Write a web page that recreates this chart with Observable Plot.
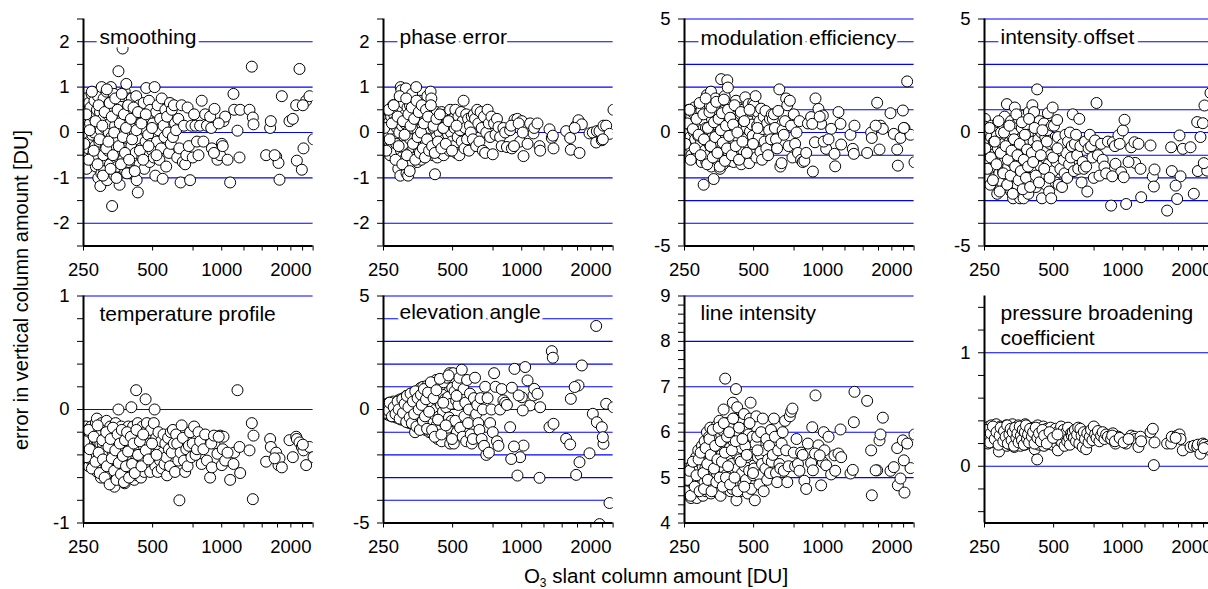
<!DOCTYPE html>
<html><head><meta charset="utf-8">
<script src="https://cdn.jsdelivr.net/npm/d3@7"></script>
<script src="https://cdn.jsdelivr.net/npm/@observablehq/plot@0.6"></script>
<style>
html,body{margin:0;padding:0;background:#fff;overflow:hidden;}
#chart{position:relative;width:1208px;height:589px;overflow:hidden;font-family:"Liberation Sans",Arial,sans-serif;color:#000;}
#chart svg{position:absolute;max-width:none;}
.ytitle{position:absolute;left:21px;top:290px;transform:translate(-50%,-50%) rotate(-90deg);white-space:nowrap;font-size:20px;line-height:1;}
.xtitle{position:absolute;left:656px;top:566px;transform:translateX(-50%);white-space:nowrap;font-size:20.5px;line-height:1;}
.xtitle sub{font-size:12px;vertical-align:-4px;line-height:0;}
</style></head>
<body>
<div id="chart">
  <div class="ytitle">error in vertical column amount [DU]</div>
  <div class="xtitle">O<sub>3</sub> slant column amount [DU]</div>
</div>
<script>
// O3 slant column amount [DU] (shared by all panels)
const slantColumn = [
 251,253,254,256,258,259,261,262,264,265,267,268,270,271,273,275,276,278,279,281,283,284,286,287,289,290,292,293,295,296,297,298,299,300,301,
 303,305,306,308,310,311,313,315,317,318,320,322,324,326,327,329,331,333,335,337,339,341,343,345,347,349,351,353,355,357,359,361,363,365,368,370,372,374,376,378,380,382,384,386,388,390,392,394,396,398,
 401,404,406,409,411,414,416,419,421,424,426,429,431,434,437,439,442,445,448,451,454,457,460,463,466,469,472,475,478,482,485,488,492,495,498,
 502,506,510,514,518,522,526,530,535,539,544,548,553,558,563,568,573,578,584,589,595,600,
 606,613,619,626,633,640,647,654,662,669,677,685,693,701,710,719,728,738,748,758,769,780,792,805,818,832,847,862,
 890,906,930,958,984,1001,1018,1035,1088,1125,1133,1171,1195,1203,1321,1352,1366,1375,1561,1625,1636,1726,1767,1785,1827,1973,2040,2110,2124,2181,2233,2270,2332,2411,2510,
 900,925,970,1010,1060,1700,2255,
 252,257,263,266,272,277,282,288,291,294,302,304,309,314,316,321,325,328,332,336,340,344,348,352,356,360,364,367,371,375,379,383,387,391,395,402,407,413,418,425,432,440,447,455,467,480,497,520
];

const smoothing = [
 0.6,0.3,-0.1,0.75,-0.8,0.45,0.1,-0.35,0.65,-0.2,0.2,0.55,-0.6,0.85,-0.05,0.35,-0.45,0.0,0.7,-0.3,-0.75,0.15,0.5,-0.55,0.8,-1.0,0.25,-0.2,0.45,-1.18,0.05,0.6,-0.9,1.0,-0.65,
 0.3,-0.5,0.75,-0.85,0.1,0.55,-0.25,0.9,-1.05,0.4,-0.4,0.0,0.65,-0.7,0.2,1.0,-0.1,-1.62,0.5,-0.3,0.85,-0.95,0.15,-0.55,0.7,0.35,-0.75,-0.15,1.35,0.05,-1.15,0.6,0.25,-0.45,0.8,1.85,-0.6,0.45,-0.2,0.9,-0.85,0.1,1.07,-0.35,0.55,0.3,-0.65,0.0,0.75,-0.9,
 0.4,-0.3,0.75,-0.6,0.15,-0.9,0.55,0.0,-0.45,0.8,-1.05,0.3,-1.32,-0.15,0.6,-0.7,0.2,-0.35,0.45,-0.55,0.1,0.65,-0.8,0.25,-0.2,0.98,-0.5,0.35,-0.05,0.7,-0.65,0.5,-0.25,0.15,-0.4,
 0.2,-0.55,1.0,-0.95,0.45,-0.2,0.6,0.05,-0.6,0.3,-0.35,0.75,-1.02,0.15,-0.1,0.5,-0.75,0.35,0.0,-0.45,0.65,-0.25,
 0.5,-0.1,0.6,0.2,0.05,-0.55,0.3,-0.35,-1.1,0.6,-0.65,0.15,-0.7,-0.5,0.55,-0.3,-1.05,0.15,-0.55,0.4,0.15,-0.2,-0.5,0.15,0.7,-0.2,0.4,0.15,
 0.35,-0.35,0.52,-0.6,-0.5,-0.25,0.25,0.35,-1.1,0.85,0.5,0.04,-0.55,0.5,0.5,1.45,0.33,0.18,-0.5,0.1,0.25,-0.53,-0.67,-1.04,0.8,0.25,0.3,0.6,-0.62,1.4,-0.82,-0.35,0.7,0.8,-0.15,
 0.1,-0.45,0.2,-0.3,-0.6,-0.5,0.6,
 -0.25,0.4,-0.6,0.05,0.9,-0.4,0.25,-0.7,0.6,-0.15,0.15,-0.95,0.45,-0.35,0.95,-0.2,0.65,-0.8,0.35,-0.5,0.0,0.75,-1.0,0.5,-0.3,0.2,-0.7,0.85,-0.1,0.4,-0.45,0.1,-0.9,0.6,-0.6,0.3,-0.15,0.55,-0.85,0.05,0.45,-0.4,0.2,-0.6,0.4,-0.3,0.1,-0.5
];

const phaseError = [
 0.25,-0.1,0.0,0.3,-0.2,0.1,-0.35,0.2,-0.05,0.45,-0.5,0.15,0.35,-0.3,0.05,0.6,-0.15,0.4,-0.45,0.25,0.55,-0.25,0.1,-0.6,0.45,-0.8,0.3,0.0,0.7,-0.95,1.0,-0.4,0.93,-0.55,0.15,
 0.5,-0.3,0.65,-0.6,0.2,0.4,0.97,-0.9,0.0,0.55,-0.95,0.3,-0.45,0.6,-0.15,0.45,-0.7,0.85,0.1,-0.35,0.5,-0.55,0.25,-0.2,1.0,0.65,-0.65,0.05,0.4,-0.4,0.7,-0.1,0.3,-0.6,0.55,0.15,-0.3,0.45,-0.5,0.2,0.6,-0.2,0.35,-0.45,0.8,0.0,-0.35,0.5,0.1,-0.25,
 0.9,0.75,-0.3,0.4,-0.5,0.1,-0.2,-0.92,0.35,-0.1,0.45,-0.55,0.15,-0.35,0.3,0.0,-0.45,0.2,0.45,-0.25,0.1,-0.5,0.35,-0.15,0.05,0.4,-0.35,0.25,-0.05,0.2,-0.4,0.5,0.0,-0.2,0.3,
 0.3,-0.3,0.1,0.5,-0.45,0.2,-0.1,0.35,-0.5,0.05,0.45,-0.2,0.25,0.7,-0.35,0.1,0.4,-0.15,0.3,-0.4,0.15,0.0,
 0.35,-0.15,0.4,0.3,-0.3,0.5,0.2,-0.2,0.45,0.1,-0.4,0.35,-0.45,0.0,0.5,0.2,-0.1,0.35,-0.48,0.2,-0.05,0.3,0.12,-0.1,-0.3,0.1,0.0,-0.32,
 0.05,-0.35,0.28,0.3,-0.2,0.25,-0.52,0.08,0.2,-0.02,0.1,0.2,-0.3,-0.4,0.07,-0.12,-0.07,-0.35,0.03,-0.12,-0.38,0.15,0.27,-0.45,0.18,-0.02,0.0,-0.22,0.03,0.03,-0.17,0.15,0.15,-0.03,0.5,
 0.15,-0.3,0.2,0.0,-0.25,0.1,-0.15,
 0.1,-0.4,0.5,-0.15,0.2,0.6,-0.6,0.35,-0.3,0.8,-0.7,0.25,-0.05,0.75,-0.5,0.4,-0.85,0.15,0.55,-0.25,0.3,-0.6,0.7,-0.1,0.45,-0.45,0.0,0.6,-0.35,0.2,-0.55,0.5,-0.15,0.35,-0.4,0.6,-0.3,0.15,-0.45,0.3,-0.2,0.4,-0.35,0.1,-0.25,0.25,-0.4,0.15
];

const modulationEfficiency = [
 0.7,-0.9,0.3,0.85,-0.4,0.1,1.0,-0.6,0.45,-0.2,0.65,-1.0,0.2,0.9,-0.5,0.0,1.1,-0.3,0.5,-0.8,0.35,-1.1,0.8,-0.15,0.6,-0.7,1.2,0.05,-0.45,0.95,-1.3,0.4,-0.25,0.75,0.15,
 -2.3,0.5,-0.8,1.4,0.2,-1.3,1.65,-0.4,0.9,-1.0,0.1,1.2,-0.6,1.8,-1.5,0.6,-0.2,1.0,-2.05,0.35,-0.9,1.5,-0.1,0.75,-1.2,0.3,1.3,-0.5,0.0,-1.6,1.1,2.35,-0.75,0.55,-1.4,0.95,-0.3,1.6,-1.1,0.15,0.8,-0.55,2.3,1.98,-0.85,0.45,-1.25,1.2,-0.05,0.65,
 1.2,-0.7,0.4,-1.3,0.9,0.0,-0.4,1.4,-1.0,0.6,-0.2,1.1,-1.2,0.3,-0.6,0.8,-1.4,0.15,1.0,-0.8,0.5,-0.3,1.55,-1.1,0.2,0.7,-0.5,1.25,-1.35,0.05,0.95,-0.9,0.35,-0.15,1.3,
 1.2,-0.5,1.6,-1.1,0.3,0.9,-0.2,0.5,-0.85,1.05,-1.2,0.15,0.7,-0.4,0.95,-0.7,0.4,-1.0,0.1,0.6,-0.3,0.8,
 0.6,0.8,0.2,-0.3,-0.7,0.95,1.9,-1.5,-1.35,0.1,-0.1,0.5,1.5,1.2,-0.6,1.4,0.3,-1.1,0.8,-0.5,0.0,-0.9,0.5,-1.2,-1.3,-1.25,-0.9,0.4,
 0.68,-1.72,1.5,1.04,0.38,0.75,-0.4,-0.72,0.16,-0.94,-1.49,0.9,0.38,-0.53,-0.1,-0.72,-0.94,0.3,-0.9,0.0,-0.24,1.31,-0.75,0.3,0.16,0.85,-0.06,-0.75,-1.46,-0.24,0.97,0.19,2.25,-0.1,-1.31,
 0.38,-0.43,0.7,-0.4,-0.3,0.3,0.2,
 -0.5,0.4,1.0,-1.2,0.15,-0.7,0.6,-0.1,1.3,-1.0,0.8,-0.3,1.5,-1.4,0.2,0.9,-0.6,1.1,-1.1,0.45,-0.2,1.35,-0.9,0.6,-1.5,0.1,0.85,-0.45,1.45,-1.25,0.3,-0.7,1.0,-0.15,0.65,-1.0,0.35,1.2,-0.6,0.0,-1.2,0.9,-0.4,0.5,-0.9,1.0,-0.5,0.2
];

const intensityOffset = [
 0.6,0.25,-0.3,-1.0,-0.5,0.05,-2.0,-0.8,-1.3,-2.3,-0.2,0.3,-1.6,-0.6,-1.1,-0.4,-2.0,0.1,-0.9,-1.5,-0.15,-2.7,-0.7,0.45,-1.2,-1.8,-0.3,-2.5,0.0,-1.0,-1.4,0.4,-2.2,-0.55,-1.75,
 -0.5,-1.8,0.7,-1.2,-0.1,-2.4,1.25,-0.8,-1.5,0.3,-2.0,-0.4,-1.0,0.5,-2.6,-1.3,-0.2,-2.9,0.1,-0.7,1.1,-1.7,-1.1,0.4,-2.3,-0.5,-1.4,0.6,-0.9,-2.9,-0.3,-1.9,0.2,-1.2,-0.6,-2.9,0.75,-1.6,-1.0,-2.2,0.35,-0.8,-1.3,-0.1,-2.7,0.9,-1.5,-0.4,-2.0,-0.95,
 -1.0,1.2,-2.1,-0.4,0.9,-1.6,-0.7,-2.4,0.2,1.9,-1.2,-0.3,-2.0,0.5,-0.9,-1.5,0.0,-2.9,-0.6,-1.8,0.4,-1.1,-0.2,-2.3,-0.8,0.1,0.85,-1.4,-2.6,-0.5,-1.0,-2.9,0.3,1.1,-1.7,
 0.3,-0.5,-2.2,-1.3,0.55,-0.2,-2.3,-1.0,-1.6,-0.8,-2.4,-0.5,-1.2,-1.8,-0.1,-0.9,-2.0,-0.4,-1.4,0.0,-1.1,-0.6,
 0.8,-1.7,-0.5,-0.1,-1.0,-1.6,0.6,-0.6,-2.2,-1.3,-1.6,-0.4,-1.5,-2.6,-0.7,-0.1,-0.6,-1.1,-2.0,-0.35,1.3,-1.0,-1.9,-0.5,-1.2,-1.5,-1.8,-0.4,
 -3.22,-0.43,-1.38,-0.13,-1.75,0.09,0.56,-3.15,-0.65,-0.43,-1.34,-0.5,-1.6,-2.85,-0.57,-1.94,-2.38,-1.63,-3.44,-0.65,-1.7,-2.93,-0.13,-1.93,-0.72,-0.65,-2.7,0.46,-1.7,-0.2,0.41,1.19,-1.68,1.74,-1.35,
 -1.93,-0.6,-0.5,-1.97,-1.3,-2.34,-1.35,
 -0.7,-1.6,0.2,-1.1,-2.1,-0.4,-1.4,0.5,-2.6,-0.9,-1.8,0.0,-0.6,-2.3,-1.2,0.3,-1.9,-0.8,-2.7,-0.3,-1.5,0.8,-1.0,-2.1,-0.5,-1.7,0.45,-2.5,-1.2,-0.1,-2.0,-0.75,-1.5,0.6,-2.4,-0.9,-1.3,0.2,-1.9,-0.6,-2.2,-1.0,0.1,-1.6,-0.4,-2.0,-1.1,-0.7
];

const temperatureProfile = [
 -0.35,-0.2,-0.45,-0.15,-0.3,-0.25,-0.4,-0.18,-0.5,-0.28,-0.22,-0.38,-0.15,-0.45,-0.3,-0.2,-0.35,-0.48,-0.25,-0.4,-0.12,-0.33,-0.08,-0.55,-0.28,-0.2,-0.42,-0.15,-0.5,-0.3,-0.22,-0.6,-0.36,-0.12,-0.45,
 -0.3,-0.55,-0.15,-0.45,-0.25,-0.6,-0.35,-0.1,-0.5,-0.4,-0.2,-0.62,-0.3,-0.45,-0.15,-0.55,-0.25,-0.65,-0.38,-0.2,-0.5,-0.68,-0.3,-0.12,-0.45,-0.58,-0.25,-0.4,0.0,-0.55,-0.2,-0.35,-0.62,-0.15,-0.48,-0.3,-0.58,-0.22,-0.42,-0.65,-0.18,-0.35,-0.52,-0.25,-0.4,-0.6,-0.15,-0.32,-0.5,-0.28,
 -0.4,0.02,-0.25,-0.55,-0.15,-0.35,-0.62,-0.2,-0.45,0.17,-0.3,-0.58,-0.12,-0.4,-0.5,-0.22,-0.35,-0.6,-0.28,-0.15,-0.45,-0.32,-0.55,-0.2,0.09,-0.38,-0.12,-0.5,-0.25,-0.42,-0.3,-0.55,-0.18,-0.35,-0.45,
 -0.3,-0.12,0.0,-0.5,-0.25,-0.4,-0.55,-0.2,-0.35,-0.45,-0.28,-0.52,-0.38,-0.22,-0.48,-0.3,-0.42,-0.58,-0.25,-0.35,-0.5,-0.2,
 -0.38,-0.18,-0.3,-0.55,-0.22,-0.3,-0.45,-0.8,-0.38,-0.14,-0.25,-0.45,-0.55,-0.35,-0.5,-0.32,-0.2,-0.42,-0.3,-0.15,-0.4,-0.35,-0.2,-0.28,-0.48,-0.35,-0.22,-0.45,
 -0.6,-0.51,-0.3,-0.39,-0.23,-0.49,-0.24,-0.45,-0.62,-0.48,-0.38,0.17,-0.33,-0.56,-0.36,-0.12,-0.79,-0.23,-0.46,-0.26,-0.33,-0.38,-0.49,-0.43,-0.51,-0.27,-0.42,-0.24,-0.26,-0.29,-0.33,-0.36,-0.49,-0.33,-0.42,
 -0.3,-0.23,-0.24,-0.35,-0.38,-0.43,-0.31,
 -0.28,-0.42,-0.18,-0.35,-0.52,-0.24,-0.46,-0.14,-0.38,-0.56,-0.27,-0.44,-0.6,-0.2,-0.5,-0.33,-0.66,-0.26,-0.43,-0.16,-0.54,-0.36,-0.62,-0.22,-0.47,-0.3,-0.57,-0.18,-0.41,-0.64,-0.27,-0.5,-0.2,-0.37,-0.6,-0.24,-0.48,-0.3,-0.56,-0.18,-0.4,-0.28,-0.5,-0.22,-0.36,-0.44,-0.3,-0.4
];

const elevationAngle = [
 0.05,-0.1,0.15,0.0,-0.2,0.25,-0.05,0.1,-0.25,0.3,-0.15,0.05,0.2,-0.3,0.1,-0.1,0.35,-0.2,0.0,0.25,-0.35,0.15,-0.05,0.3,-0.25,0.4,-0.4,0.1,-0.15,0.2,0.45,-0.3,0.05,-0.45,0.3,
 0.2,-0.3,0.5,-0.1,0.35,-0.5,0.0,0.6,-0.4,0.15,-0.2,0.55,-0.6,0.3,-0.05,0.7,-0.35,0.1,-0.65,0.45,-0.15,0.75,-1.0,0.25,-0.45,0.6,-0.7,0.05,0.85,-0.3,0.4,-0.8,0.95,-0.2,0.15,-0.55,1.0,-0.75,0.5,-0.1,0.8,-0.9,0.3,-0.4,1.05,-0.6,0.0,0.65,-1.0,0.45,
 0.9,-1.0,0.3,-0.5,1.1,-0.2,0.6,-1.1,0.0,1.3,-0.7,0.4,-1.3,0.8,-0.3,1.0,-0.9,0.2,-1.4,0.65,-0.1,1.2,-0.6,0.45,-1.05,0.1,1.4,-0.8,0.55,-0.35,1.6,-1.5,0.25,-0.5,0.95,
 1.6,-1.5,0.8,-0.5,0.4,-1.0,1.1,0.2,1.4,-0.8,0.6,1.75,-1.2,0.9,-0.3,0.3,-1.4,1.3,-0.6,0.0,0.7,-1.1,
 -1.5,-1.3,0.5,1.4,-0.2,0.2,-0.6,-0.9,0.5,-1.3,0.0,-1.6,1.0,-2.0,0.5,-1.9,-0.6,0.0,-1.0,1.6,1.0,-1.4,-1.6,0.0,0.9,0.4,0.3,0.2,
 -0.78,0.96,1.79,-2.91,-2.1,0.54,-1.59,1.87,0.18,0.62,0.91,0.69,-3.01,0.1,-0.78,2.57,2.28,-0.63,-1.29,-1.54,0.47,-2.88,1.06,-2.32,1.94,-1.93,-0.19,3.68,-0.56,-5.05,-0.78,-1.51,0.25,-4.12,0.1,
 -2.18,-1.63,0.62,-0.04,1.28,0.99,-1.22,
 -0.15,0.2,-0.05,0.3,-0.3,0.1,-0.2,0.35,0.0,-0.4,0.45,-0.15,0.25,-0.55,0.6,0.1,-0.35,0.7,-0.6,0.35,-0.2,0.8,-0.75,0.5,0.0,-0.9,0.65,0.2,-0.5,0.9,-0.3,0.45,-0.85,0.75,-0.1,1.2,-0.9,0.5,-1.2,0.85,-0.45,1.35,-1.1,0.3,-0.7,1.5,-1.3,0.6
];

const lineIntensity = [
 4.8,5.05,4.65,4.9,5.2,4.7,5.0,4.6,5.1,4.85,4.55,5.25,4.75,5.0,4.9,5.3,4.6,5.15,4.8,5.45,4.55,5.0,4.9,5.6,4.7,5.2,5.05,4.85,5.5,4.65,5.3,5.7,4.95,5.25,4.6,
 5.6,4.9,5.8,5.2,4.7,5.5,6.0,5.0,5.35,4.8,5.9,5.15,6.1,4.65,5.45,5.75,5.0,4.85,6.0,5.3,5.6,4.7,5.9,5.1,6.15,5.45,4.9,5.7,6.25,5.25,4.6,5.95,5.5,6.05,4.95,6.5,5.2,5.75,7.18,5.05,6.2,4.75,5.55,5.9,5.3,4.85,6.1,5.65,4.7,5.4,
 5.3,4.75,6.65,5.8,6.3,5.0,5.55,6.95,4.5,6.55,5.2,4.9,6.0,5.4,4.7,6.2,5.65,5.1,5.85,4.85,6.4,5.25,5.7,4.95,6.1,5.45,4.65,5.95,5.15,6.3,6.65,4.75,5.5,5.9,5.05,
 5.2,4.5,5.75,6.35,5.9,5.45,5.05,4.85,5.5,6.0,5.3,6.3,4.7,5.6,5.2,5.85,4.95,5.4,5.7,5.1,6.05,5.35,
 5.5,6.3,5.9,5.1,4.9,5.6,5.3,5.2,5.75,6.0,5.15,6.25,5.6,4.9,5.25,6.35,6.45,6.52,5.55,5.25,5.85,5.3,5.15,5.55,5.5,4.93,4.75,5.75,
 5.32,5.16,6.81,5.71,4.83,5.34,5.6,5.27,5.07,5.49,5.15,5.53,6.06,5.45,5.09,5.17,6.22,6.89,6.69,5.6,4.61,5.16,5.82,5.95,6.32,5.15,5.23,5.65,4.83,4.98,5.82,4.67,5.75,5.21,5.95,
 6.11,5.53,5.49,6.0,5.9,5.16,5.38,
 4.7,4.95,5.15,4.6,5.35,4.8,5.05,5.4,4.7,5.55,5.1,4.75,5.65,5.3,4.95,5.85,5.5,4.7,6.05,5.2,5.7,4.9,5.4,6.1,5.0,5.8,5.35,4.8,6.2,5.55,5.0,5.9,5.25,6.0,4.85,5.6,6.3,5.0,5.8,4.7,6.1,5.35,5.85,4.8,5.5,6.2,5.1,5.6
];

const pressureBroadening = [
 0.3,0.25,0.22,0.33,0.28,0.2,0.35,0.26,0.31,0.23,0.29,0.36,0.24,0.32,0.27,0.21,0.34,0.28,0.25,0.37,0.22,0.3,0.26,0.33,0.13,0.29,0.24,0.35,0.27,0.31,0.2,0.34,0.25,0.28,0.32,
 0.27,0.33,0.2,0.3,0.24,0.36,0.18,0.29,0.32,0.22,0.35,0.26,0.19,0.31,0.28,0.23,0.37,0.25,0.3,0.17,0.33,0.27,0.21,0.34,0.29,0.24,0.36,0.2,0.31,0.26,0.18,0.33,0.28,0.22,0.35,0.25,0.3,0.19,0.37,0.27,0.23,0.32,0.26,0.2,0.34,0.29,0.24,0.31,0.22,0.28,
 0.3,0.24,0.34,0.2,0.28,0.15,0.32,0.26,0.22,0.06,0.36,0.27,0.19,0.31,0.25,0.33,0.21,0.29,0.24,0.35,0.18,0.3,0.27,0.22,0.33,0.26,0.2,0.31,0.28,0.23,0.34,0.25,0.19,0.3,0.27,
 0.3,0.24,0.33,0.2,0.27,0.14,0.31,0.23,0.29,0.35,0.21,0.28,0.32,0.18,0.26,0.3,0.22,0.34,0.25,0.19,0.29,0.27,
 0.3,0.25,0.32,0.22,0.28,0.34,0.2,0.33,0.27,0.17,0.3,0.24,0.15,0.29,0.21,0.26,0.32,0.23,0.35,0.28,0.25,0.31,0.22,0.27,0.3,0.24,0.28,0.26,
 0.24,0.29,0.2,0.26,0.23,0.23,0.23,0.2,0.27,0.26,0.24,0.17,0.26,0.22,0.3,0.33,0.01,0.21,0.2,0.2,0.26,0.27,0.28,0.24,0.14,0.17,0.18,0.17,0.19,0.11,0.2,0.19,0.17,0.14,0.2,
 0.27,0.22,0.25,0.21,0.24,0.25,0.16,
 0.26,0.32,0.21,0.29,0.35,0.24,0.3,0.19,0.27,0.34,0.22,0.31,0.26,0.36,0.2,0.28,0.33,0.23,0.3,0.18,0.34,0.25,0.29,0.21,0.35,0.27,0.23,0.32,0.19,0.3,0.36,0.24,0.28,0.21,0.33,0.26,0.3,0.2,0.34,0.25,0.29,0.22,0.32,0.27,0.2,0.3,0.25,0.28
];

// Axis ticks and labels
const xTicks = [250, 500, 750, 1000, 1250, 1500, 1750, 2000, 2250, 2500];
const xTickLabels = [250, 500, 1000, 2000];

const ticksHalf = [-2.5, -2, -1.5, -1, -0.5, 0, 0.5, 1, 1.5, 2, 2.5];
const labelsHalf = [-2, -1, 0, 1, 2];
const gridHalf = [-2, -1, 0, 1, 2];

const ticksFive = [-5, -4, -3, -2, -1, 0, 1, 2, 3, 4, 5];
const labelsFive = [-5, 0, 5];
const gridFive = [-4, -3, -2, -1, 0, 1, 2, 3, 4, 5];

const ticksTemp = [-1, -0.8, -0.6, -0.4, -0.2, 0, 0.2, 0.4, 0.6, 0.8, 1];
const labelsTemp = [-1, 0, 1];
const gridTemp = [0, 1];

const ticksLine = [4, 4.2, 4.4, 4.6, 4.8, 5, 5.2, 5.4, 5.6, 5.8, 6, 6.2, 6.4, 6.6, 6.8, 7, 7.2, 7.4, 7.6, 7.8, 8, 8.2, 8.4, 8.6, 8.8, 9];
const labelsLine = [4, 5, 6, 7, 8, 9];
const gridLine = [5, 6, 7, 8, 9];

const ticksPress = [-0.4, -0.2, 0, 0.2, 0.4, 0.6, 0.8, 1, 1.2, 1.4];
const labelsPress = [0, 1];
const gridPress = [0, 1];

const panels = [
  {title: "smoothing", values: smoothing, domain: [-2.5, 2.5], ticks: ticksHalf, labels: labelsHalf, grid: gridHalf, col: 0, row: 0, dy: 25},
  {title: "phase error", values: phaseError, domain: [-2.5, 2.5], ticks: ticksHalf, labels: labelsHalf, grid: gridHalf, col: 1, row: 0, dy: 25},
  {title: "modulation efficiency", values: modulationEfficiency, domain: [-5, 5], ticks: ticksFive, labels: labelsFive, grid: gridFive, col: 2, row: 0, dy: 26},
  {title: "intensity offset", values: intensityOffset, domain: [-5, 5], ticks: ticksFive, labels: labelsFive, grid: gridFive, col: 3, row: 0, dy: 25},
  {title: "temperature profile", values: temperatureProfile, domain: [-1, 1], ticks: ticksTemp, labels: labelsTemp, grid: gridTemp, col: 0, row: 1, dy: 25},
  {title: "elevation angle", values: elevationAngle, domain: [-5, 5], ticks: ticksFive, labels: labelsFive, grid: gridFive, col: 1, row: 1, dy: 23},
  {title: "line intensity", values: lineIntensity, domain: [4, 9], ticks: ticksLine, labels: labelsLine, grid: gridLine, col: 2, row: 1, dy: 24},
  {title: "pressure broadening\ncoefficient", values: pressureBroadening, domain: [-0.5, 1.5], ticks: ticksPress, labels: labelsPress, grid: gridPress, col: 3, row: 1, dy: 48.5}
];

const colLeft = [0, 300, 600.7, 900.7];
const rowTop = [0, 277];
const fmt = d => d < 0 ? "-" + String(-d) : String(d);
const chart = document.getElementById("chart");

for (const p of panels) {
  const data = slantColumn.map((x, i) => ({x, y: p.values[i]})).filter(d => d.y !== undefined);
  const textOpts = {text: d => d, frameAnchor: "top-left", textAnchor: "start", lineAnchor: "bottom", dx: 16, dy: p.dy, fontSize: 21, lineHeight: 1.19};
  const svg = Plot.plot({
    width: 320,
    height: 280,
    marginLeft: 83,
    marginRight: 7.4,
    marginTop: 18.5,
    marginBottom: 34.5,
    style: {background: "transparent", overflow: "visible", fontFamily: "'Liberation Sans', Arial, sans-serif", fontSize: "18.5px", color: "black"},
    x: {type: "log", domain: [250, 2500], ticks: xTicks, tickFormat: d => xTickLabels.includes(d) ? String(d) : "", tickSize: 5, tickPadding: 12, label: null},
    y: {domain: p.domain, ticks: p.ticks, tickFormat: d => p.labels.includes(d) ? fmt(d) : "", tickSize: 6, tickPadding: 8, label: null},
    marks: [
      Plot.ruleY(p.grid, {stroke: "#0000ff", strokeWidth: 1.1}),
      Plot.dot(data, {x: "x", y: "y", r: 5.5, fill: "white", stroke: "black", strokeWidth: 1, clip: true}),
      Plot.text([p.title], {...textOpts, fill: "white", stroke: "white", strokeWidth: 7, strokeLinejoin: "round"}),
      Plot.text([p.title], {...textOpts, fill: "black"}),
      Plot.ruleX([250], {stroke: "black", strokeWidth: 2}),
      Plot.ruleY([p.domain[0]], {stroke: "black", strokeWidth: 2})
    ]
  });
  svg.style.left = colLeft[p.col] + "px";
  svg.style.top = rowTop[p.row] + "px";
  chart.appendChild(svg);
}
</script>
</body></html>
